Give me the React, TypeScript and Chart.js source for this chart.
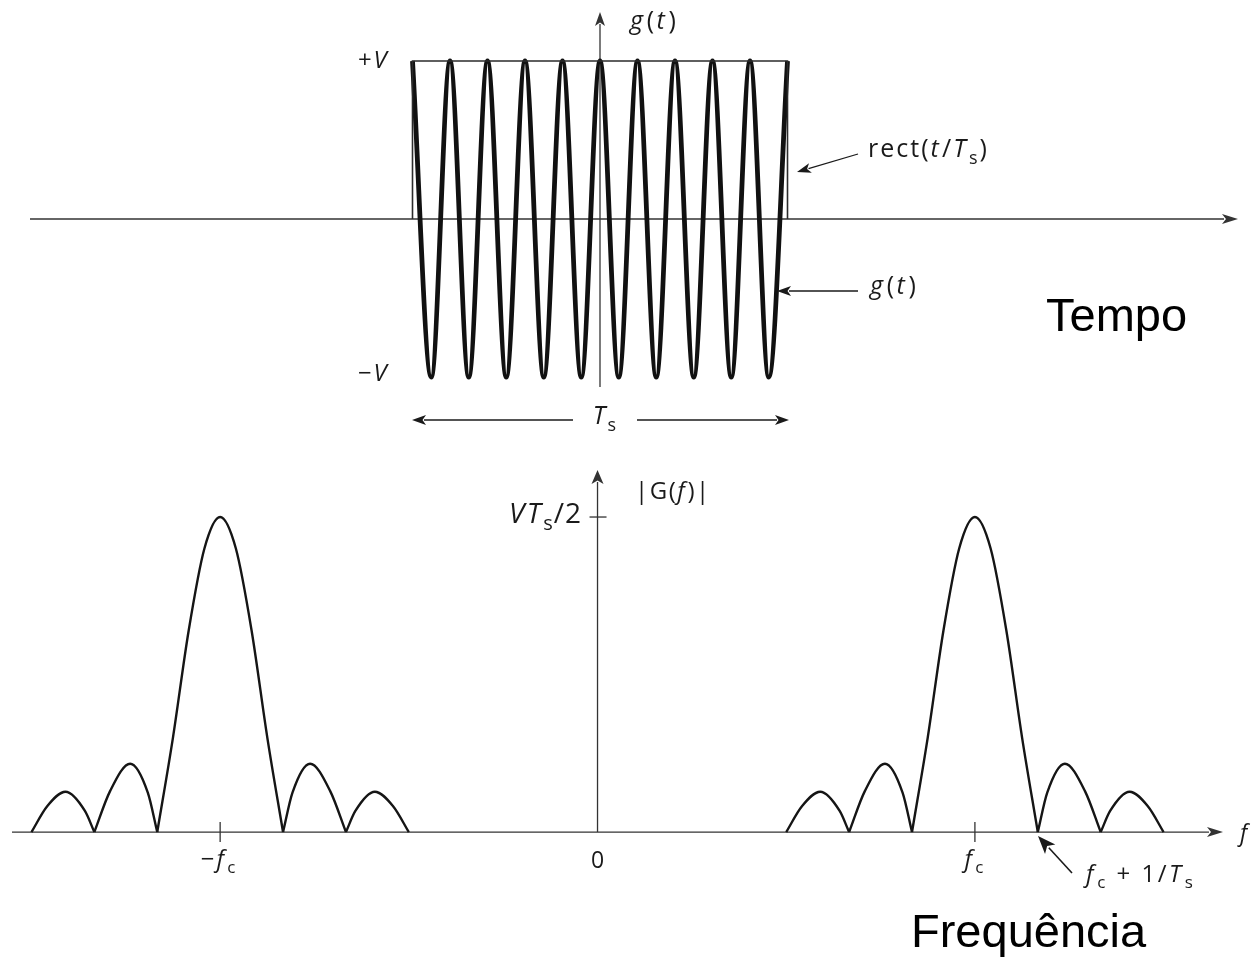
import React, { useEffect, useRef } from 'react';
import { Chart, registerables } from 'chart.js';

Chart.register(...registerables);

// ---------- Time domain (t in carrier periods, g(t) in units of V) ----------
const carrierTimes = [-5, -4.5, -4, -3.5, -3, -2.5, -2, -1.5, -1, -0.5, 0, 0.5, 1, 1.5, 2, 2.5, 3, 3.5, 4, 4.5, 5];
const carrierValues = [1, -1, 1, -1, 1, -1, 1, -1, 1, -1, 1, -1, 1, -1, 1, -1, 1, -1, 1, -1, 1];
const rectTimes = [-5, -5, 5, 5];
const rectValues = [0, 1, 1, 0];

// ---------- Frequency domain (f in units of 1/Ts, |G(f)| in units of V·Ts/2) ----------
const carrierFrequencies = [-6, 6];
const lobeOffsets = [
  [-3, -2.75, -2.46, -2.15, -2],
  [-2, -1.75, -1.43, -1.15, -1],
  [-1, -0.75, -0.5, -0.25, 0, 0.25, 0.5, 0.75, 1],
  [1, 1.15, 1.43, 1.75, 2],
  [2, 2.15, 2.46, 2.75, 3],
];
const lobeMagnitudes = [
  [0, 0.082, 0.128, 0.067, 0],
  [0, 0.13, 0.217, 0.125, 0],
  [0, 0.3, 0.64, 0.9, 1, 0.9, 0.64, 0.3, 0],
  [0, 0.125, 0.217, 0.13, 0],
  [0, 0.067, 0.128, 0.082, 0],
];

const W = 1257;
const TOP_H = 460;
const BOT_TOP = 460;
const BOT_H = 500;
const FONT = '"Open Sans", "DejaVu Sans", sans-serif';
const INK = '#1a1a1a';

type Part = { t: string; it?: boolean; sub?: boolean };

function drawParts(
  ctx: CanvasRenderingContext2D,
  parts: Part[],
  x: number,
  y: number,
  size: number,
  align: 'left' | 'center' | 'right' = 'left',
  spacing = 1.5
) {
  const c = ctx as any;
  const fontOf = (p: Part) => `${p.it ? 'italic ' : ''}${p.sub ? Math.round(size * 0.72) : size}px ${FONT}`;
  ctx.save();
  c.letterSpacing = `${spacing}px`;
  const widths = parts.map((p) => {
    ctx.font = fontOf(p);
    return ctx.measureText(p.t).width + (p.it ? size * 0.05 : 0);
  });
  const total = widths.reduce((a, b) => a + b, 0);
  let cx = align === 'left' ? x : align === 'center' ? x - total / 2 : x - total;
  ctx.fillStyle = INK;
  ctx.textBaseline = 'middle';
  ctx.textAlign = 'left';
  parts.forEach((p, i) => {
    ctx.font = fontOf(p);
    ctx.fillText(p.t, cx, p.sub ? y + size * 0.34 : y);
    cx += widths[i];
  });
  ctx.restore();
}

function arrow(
  ctx: CanvasRenderingContext2D,
  x1: number,
  y1: number,
  x2: number,
  y2: number,
  len = 14,
  half = 5,
  width = 1.3,
  color = INK
) {
  const a = Math.atan2(y2 - y1, x2 - x1);
  const bx = x2 - Math.cos(a) * len;
  const by = y2 - Math.sin(a) * len;
  ctx.save();
  ctx.strokeStyle = color;
  ctx.fillStyle = color;
  ctx.lineWidth = width;
  ctx.beginPath();
  ctx.moveTo(x1, y1);
  ctx.lineTo(bx + Math.cos(a) * 2, by + Math.sin(a) * 2);
  ctx.stroke();
  ctx.beginPath();
  ctx.moveTo(x2, y2);
  ctx.lineTo(bx - Math.sin(a) * half, by + Math.cos(a) * half);
  ctx.lineTo(bx + Math.cos(a) * len * 0.25, by + Math.sin(a) * len * 0.25);
  ctx.lineTo(bx + Math.sin(a) * half, by - Math.cos(a) * half);
  ctx.closePath();
  ctx.fill();
  ctx.restore();
}

function line(ctx: CanvasRenderingContext2D, x1: number, y1: number, x2: number, y2: number, width = 1.3, color = '#333') {
  ctx.save();
  ctx.strokeStyle = color;
  ctx.lineWidth = width;
  ctx.beginPath();
  ctx.moveTo(x1, y1);
  ctx.lineTo(x2, y2);
  ctx.stroke();
  ctx.restore();
}

function bigText(ctx: CanvasRenderingContext2D, text: string, x: number, y: number) {
  ctx.save();
  ctx.fillStyle = '#000';
  ctx.font = `47px "Liberation Sans", Arial, sans-serif`;
  ctx.textBaseline = 'alphabetic';
  ctx.textAlign = 'left';
  ctx.fillText(text, x, y);
  ctx.restore();
}

const topPlugin = {
  id: 'timeAnnotations',
  beforeDatasetsDraw(chart: any) {
    const ctx = chart.ctx as CanvasRenderingContext2D;
    const xs = chart.scales.x;
    const ys = chart.scales.y;
    const y0 = ys.getPixelForValue(0);
    const x0 = xs.getPixelForValue(0);
    arrow(ctx, 30, y0, 1238, y0, 16, 5, 1.4, '#333');
    arrow(ctx, x0, 387, x0, 12, 14, 5, 1.3, '#333');
  },
  afterDatasetsDraw(chart: any) {
    const ctx = chart.ctx as CanvasRenderingContext2D;
    drawParts(ctx, [{ t: 'g', it: true }, { t: '(' }, { t: 't', it: true }, { t: ')' }], 630, 22, 25, 'left', 2.5);
    drawParts(ctx, [{ t: '+' }, { t: 'V', it: true }], 390, 61, 24, 'right', 2);
    drawParts(ctx, [{ t: '−' }, { t: 'V', it: true }], 390, 374, 24, 'right', 2);
    drawParts(
      ctx,
      [{ t: 'rect(' }, { t: 't', it: true }, { t: '/' }, { t: 'T', it: true }, { t: 's', sub: true }, { t: ')' }],
      868,
      150,
      25,
      'left',
      2
    );
    arrow(ctx, 858, 154, 797, 172, 14, 5, 1.3);
    drawParts(ctx, [{ t: 'g', it: true }, { t: '(' }, { t: 't', it: true }, { t: ')' }], 870, 287, 25, 'left', 2.5);
    arrow(ctx, 858, 291, 777, 291, 14, 5, 1.3);
    drawParts(ctx, [{ t: 'T', it: true }, { t: 's', sub: true }], 605, 417, 25, 'center', 1);
    arrow(ctx, 573, 420, 412, 420, 14, 5, 1.3);
    arrow(ctx, 637, 420, 789, 420, 14, 5, 1.3);
    bigText(ctx, 'Tempo', 1046, 331);
  },
};

const bottomPlugin = {
  id: 'freqAnnotations',
  beforeDatasetsDraw(chart: any) {
    const ctx = chart.ctx as CanvasRenderingContext2D;
    const xs = chart.scales.x;
    const ys = chart.scales.y;
    const y0 = ys.getPixelForValue(0);
    const x0 = xs.getPixelForValue(0);
    const yPeak = ys.getPixelForValue(1);
    arrow(ctx, 12, y0, 1223, y0, 16, 5, 1.4, '#333');
    arrow(ctx, x0, y0, x0, 10, 14, 6, 1.3, '#333');
    line(ctx, x0 - 8, yPeak, x0 + 9, yPeak, 1.3);
    carrierFrequencies.forEach((fc) => {
      const px = xs.getPixelForValue(fc);
      line(ctx, px, y0 - 10, px, y0 + 10, 1.3);
    });
  },
  afterDatasetsDraw(chart: any) {
    const ctx = chart.ctx as CanvasRenderingContext2D;
    const xs = chart.scales.x;
    const o = BOT_TOP;
    drawParts(ctx, [{ t: '|G(' }, { t: 'f', it: true }, { t: ')|' }], 635, 492 - o, 24, 'left', 1.5);
    drawParts(
      ctx,
      [{ t: 'V', it: true }, { t: 'T', it: true }, { t: 's', sub: true }, { t: '/2' }],
      582,
      515 - o,
      28,
      'right',
      1
    );
    drawParts(
      ctx,
      [{ t: '−' }, { t: 'f', it: true }, { t: 'c', sub: true }],
      xs.getPixelForValue(carrierFrequencies[0]) - 1,
      860 - o,
      24,
      'center',
      2
    );
    drawParts(ctx, [{ t: '0' }], xs.getPixelForValue(0), 861 - o, 23, 'center', 0);
    drawParts(
      ctx,
      [{ t: 'f', it: true }, { t: 'c', sub: true }],
      xs.getPixelForValue(carrierFrequencies[1]),
      860 - o,
      24,
      'center',
      2
    );
    drawParts(
      ctx,
      [{ t: 'f', it: true }, { t: 'c', sub: true }, { t: ' + 1/' }, { t: 'T', it: true }, { t: 's', sub: true }],
      1086,
      875 - o,
      24,
      'left',
      2.5
    );
    arrow(ctx, 1072, 873 - o, 1038, 836 - o, 18, 7, 1.6);
    drawParts(ctx, [{ t: 'f', it: true }], 1240, 834 - o, 23, 'left', 0);
    bigText(ctx, 'Frequência', 911, 947 - o);
  },
};

export default function App() {
  const topRef = useRef<HTMLCanvasElement | null>(null);
  const botRef = useRef<HTMLCanvasElement | null>(null);

  useEffect(() => {
    if (!topRef.current || !botRef.current) return;

    const topChart = new Chart(topRef.current, {
      type: 'line',
      data: {
        datasets: [
          {
            data: rectTimes.map((t, i) => ({ x: t, y: rectValues[i] })),
            borderColor: '#2b2b2b',
            borderWidth: 1.6,
            tension: 0,
            pointRadius: 0,
          },
          {
            data: carrierTimes.map((t, i) => ({ x: t, y: carrierValues[i] })),
            borderColor: '#111',
            borderWidth: 4.8,
            cubicInterpolationMode: 'monotone',
            pointRadius: 0,
          },
        ],
      } as any,
      options: {
        animation: false,
        responsive: false,
        devicePixelRatio: 1,
        layout: { padding: 0 },
        parsing: false as any,
        plugins: { legend: { display: false }, tooltip: { enabled: false } },
        events: [],
        scales: {
          x: { type: 'linear', min: -16, max: 17.52, display: false },
          y: { type: 'linear', min: -1.525, max: 1.386, display: false },
        },
      },
      plugins: [topPlugin],
    });

    const spectrumDatasets: any[] = [];
    carrierFrequencies.forEach((fc) => {
      lobeOffsets.forEach((offs, li) => {
        spectrumDatasets.push({
          data: offs.map((f, i) => ({ x: fc + f, y: lobeMagnitudes[li][i] })),
          borderColor: '#151515',
          borderWidth: 2.4,
          cubicInterpolationMode: 'monotone',
          pointRadius: 0,
        });
      });
    });

    const botChart = new Chart(botRef.current, {
      type: 'line',
      data: { datasets: spectrumDatasets },
      options: {
        animation: false,
        responsive: false,
        devicePixelRatio: 1,
        layout: { padding: 0 },
        parsing: false as any,
        plugins: { legend: { display: false }, tooltip: { enabled: false } },
        events: [],
        scales: {
          x: { type: 'linear', min: -9.5, max: 10.485, display: false },
          y: { type: 'linear', min: -0.406, max: 1.181, display: false },
        },
      },
      plugins: [bottomPlugin],
    });

    return () => {
      topChart.destroy();
      botChart.destroy();
    };
  }, []);

  return (
    <div style={{ position: 'absolute', left: 0, top: 0, width: W, height: 960, background: '#fff' }}>
      <canvas ref={topRef} width={W} height={TOP_H} style={{ position: 'absolute', left: 0, top: 0, display: 'block' }} />
      <canvas ref={botRef} width={W} height={BOT_H} style={{ position: 'absolute', left: 0, top: BOT_TOP, display: 'block' }} />
    </div>
  );
}
